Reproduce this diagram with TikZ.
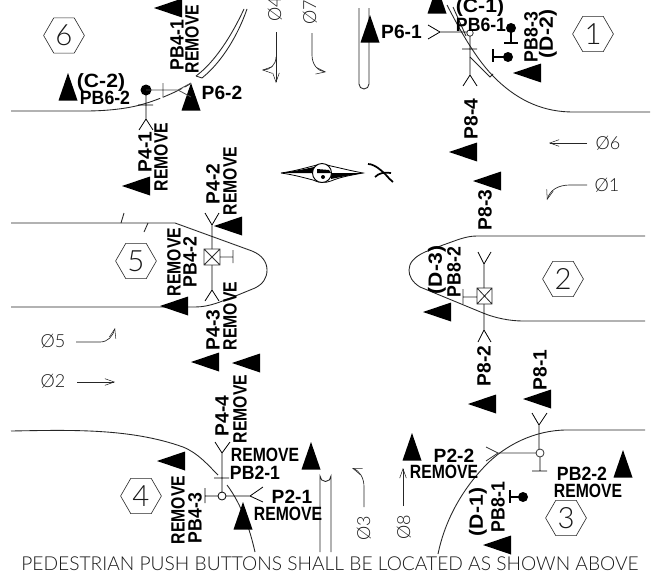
\documentclass[tikz,border=0pt]{standalone}
\usepackage{fontspec}
\setmainfont{Liberation Sans}
\newfontfamily\thinf{Lato Light}
\usetikzlibrary{arrows.meta,shapes.geometric}
\tikzset{
  x=0.75pt,y=-0.75pt,
  lab/.style={font=\fontsize{14.4pt}{14.4pt}\bfseries\selectfont,inner sep=0pt},
  rem/.style={lab,xscale=0.82},
  pb/.style={lab,xscale=0.92},
  paren/.style={lab,xscale=1.1},
  vlab/.style={rotate=90,lab},
  vrem/.style={rotate=90,rem},
  vpb/.style={rotate=90,pb},
  vparen/.style={rotate=90,paren},
  thinlab/.style={font=\thinf\fontsize{13.5pt}{13.5pt}\selectfont,inner sep=0pt,text=black!90},
  vthin/.style={rotate=90,thinlab},
  hexa/.style={font=\thinf\fontsize{22pt}{22pt}\selectfont,text=black!90,draw=black!85,regular polygon,regular polygon sides=6,minimum size=30.6pt,inner sep=0pt,line width=.45pt},
  curb/.style={line width=.65pt,black!85},
  pole/.style={line width=.6pt,black},
  harrow/.style={line width=.5pt,black!85,-{Straight Barb[length=7pt,width=5pt,line width=.4pt]}},
}
\newcommand{\triup}[2]{\fill (#1,#2) -- ++(-9.5,27.5) -- ++(19,0) -- cycle;}
\newcommand{\trileft}[2]{\fill (#1,#2) -- ++(28,-9.5) -- ++(0,19) -- cycle;}
\begin{document}
\begin{tikzpicture}
\useasboundingbox[fill=white] (0,0) rectangle (653,571);
\begin{scope}
\clip (0,0) rectangle (653,571);
% curbs
\draw[curb] (11,111) -- (85,111) .. controls (105,111) and (125,109) .. (140,105);
\draw[curb,dash pattern=on 16pt off 2pt] (140,105) .. controls (155,101) and (175,93) .. (190,84);
\draw[curb] (196,76) .. controls (215,62) and (232,35) .. (244,9);
\draw[curb] (202,78) .. controls (222,62) and (238,35) .. (247,9);
\draw[curb] (196,76) -- (202,78);
\draw[curb] (447,5) .. controls (460,30) and (476,60) .. (497,80) .. controls (520,102) and (545,112) .. (573,112) -- (650,112);
\draw[curb] (453,7) -- (466,36);
\draw[curb] (470,57) -- (490,77) -- (493,74);
\draw[curb] (11,223) -- (175,223) -- (252,251) .. controls (262,255) and (267,262) .. (267,270) .. controls (267,278) and (263,284) .. (255,288) -- (233,297) .. controls (222,301) and (210,307) .. (195,307) -- (11,307);
\draw[curb] (124,213) -- (121,223);
\draw[curb] (148,223) -- (144,232);
\draw[curb] (645,236) -- (523,236) -- (477,236) .. controls (465,236) and (455,241) .. (443,245) -- (425,252) .. controls (414,257) and (409,263) .. (409,270) .. controls (409,276) and (412,282) .. (420,287) -- (483,313) .. controls (495,318) and (510,321) .. (523,321) -- (645,321);
\draw[curb] (11,431) .. controls (70,430) and (130,428) .. (183,447) .. controls (198,453) and (208,465) .. (218,475);
\draw[curb] (227,485) .. controls (242,505) and (250,530) .. (255,552);
\draw[curb] (438,554) .. controls (445,520) and (462,490) .. (485,466) .. controls (505,445) and (535,430) .. (567,430) -- (645,430);
% medians
\draw[curb] (359,8) -- (359,84) arc[start angle=180,end angle=360,x radius=5,y radius=-5] -- (369,8);
\draw[curb] (320,552) -- (320,476) arc[start angle=180,end angle=0,x radius=5.5,y radius=5.5] -- (331,552);
% hexes
\node[hexa] (h6) at (64,35.5) {6};
\node[hexa] (h1) at (593,34) {1};
\node[hexa] (h5) at (136,261) {5};
\node[hexa] (h2) at (563,279) {2};
\node[hexa] (h4) at (141,496) {4};
\node[hexa] (h3) at (566,518) {3};
% triangles
\trileft{154}{8} \triup{68}{73} \triup{191}{83} \trileft{122}{186}
\trileft{214}{226} \trileft{160}{306} \trileft{191}{362} \trileft{232}{363}
\trileft{157}{461} \triup{311}{442} \triup{243}{502} \triup{412}{433}
\triup{623}{450} \trileft{483}{545} \trileft{468}{404} \trileft{523}{399}
\trileft{513}{73} \trileft{449}{152} \trileft{473}{181} \triup{437}{-14}
\triup{370}{15} \trileft{423}{312}
% pole P4-1 / PB6-2
\fill (146,90) circle[radius=5.5];
\draw[pole] (146,90) -- (146,119) (139,130) -- (146,119) -- (153,130) (138,105) -- (153,105);
\draw[pole,black!70] (146,90) -- (178,90) (163,83) -- (163,97) (191,83) -- (178,90) -- (191,97);
% pole P6-1
\draw[pole] (428,25) -- (440,32) -- (428,39) (440,32) -- (467,32);
\draw[pole,black!80] (470,33) circle[radius=3.2];
\draw[pole] (470,36) -- (470,75) (462,49) -- (477,49) (463,86) -- (470,75) -- (477,86);
\fill (508,57) circle[radius=5]; \draw[pole,line width=1.1pt] (508,57) -- (493,57) (493,49) -- (493,62);
\fill (511,28) circle[radius=5]; \draw[pole,line width=1.1pt] (511,28) -- (511,43) (504,43) -- (518,43);
% pole island 5
\draw[pole] (205,213) -- (212,225) -- (219,213) (212,225) -- (212,249) (212,265) -- (212,290) (205,301) -- (212,290) -- (219,301);
\draw[pole,black!80] (204,249) rectangle (220,265) (204,249) -- (220,265) (204,265) -- (220,249) (220,257) -- (233,257) (233,250) -- (233,263);
% pole island 2
\draw[pole] (478,252) -- (484,264) -- (491,252) (484,264) -- (484,288) (484,304) -- (484,330) (478,342) -- (484,330) -- (491,342);
\draw[pole,black!85] (477,288) rectangle (492,304) (477,288) -- (492,304) (477,304) -- (492,288) (477,297) -- (463,297) (463,289) -- (463,304);
% pole bottom-left
\draw[pole] (215,442) -- (222,453) -- (230,442) (222,453) -- (222,492) (214,478) -- (229,478);
\draw[pole] (222,496) circle[radius=4];
\draw[pole] (218,496) -- (205,496) (205,488) -- (205,503) (226,496) -- (250,496) (263,487) -- (250,496) -- (263,502);
% pole bottom-right
\draw[pole] (532,413) -- (539,425) -- (547,413) (539,425) -- (539,449) (540,457) -- (540,471) (532,471) -- (547,471);
\draw[pole,black!80] (540,453) circle[radius=4];
\draw[pole,black!80] (536,453) -- (498,453) (486,447) -- (498,453) -- (486,461);
\fill (523,497) circle[radius=5]; \draw[pole,line width=1.1pt] (523,497) -- (510,497) (510,490) -- (510,503);
% phase arrows
\draw[harrow] (276,32) -- (276,83);
\draw[harrow] (276,57) .. controls (276,65) and (270,70) .. (262,70);
\draw[harrow] (312,33) -- (312,55) .. controls (312,65) and (318,71) .. (326,72);
\draw[harrow] (587,143) -- (549,143);
\draw[harrow] (587,185) -- (570,185) .. controls (558,185) and (550,190) .. (547,200);
\draw[harrow] (76,342) -- (100,342) .. controls (108,342) and (113,336) .. (115,328);
\draw[harrow] (77,382) -- (115,382);
\draw[harrow] (364,507) -- (364,487) .. controls (364,478) and (360,471) .. (352,468);
\draw[harrow] (403,506) -- (403,468);
% north arrow
\draw[line width=.6pt] (281,173) .. controls (295,171) and (305,168) .. (313,166) .. controls (318,164) and (326,164) .. (331,166) .. controls (340,168) and (352,171) .. (363,173) .. controls (352,175) and (340,177) .. (331,181) .. controls (326,183) and (318,183) .. (313,180) .. controls (305,178) and (295,175) .. (281,173);
\fill (281,173) .. controls (295,171) and (305,169) .. (314,167) -- (314,173) -- cycle;
\fill (363,173) -- (331,173) -- (331,179) .. controls (340,177) and (352,175) .. (363,173);
\draw[line width=.7pt,fill=white] (322,173) circle[radius=9.5];
\fill (317,169) -- (329,170) -- (331,173) -- (317,173) -- cycle;
\fill (323,177) circle[radius=2];
\draw[line width=1.3pt] (368,164) .. controls (375,164) and (383,172) .. (386,175) .. controls (388,178) and (391,180) .. (393,182);
\draw[line width=1.3pt] (375,177) .. controls (379,173) and (384,172) .. (391,173);
% labels
\node[lab] (t1) at (401.5,32) {P6-1};
\node[paren] (t2) at (480,8) {(C-1)};
\node[pb] (t3) at (481,25) {PB6-1};
\node[lab] (t4) at (222,93) {P6-2};
\node[paren] (t5) at (101,83) {(C-2)};
\node[pb] (t6) at (105,98) {PB6-2};
\node[rem] (t7) at (265,455) {REMOVE};
\node[pb] (t8) at (255,473) {PB2-1};
\node[lab] (t9) at (292,497) {P2-1};
\node[rem] (t10) at (288,514) {REMOVE};
\node[lab] (t11) at (454,456) {P2-2};
\node[rem] (t12) at (444,472) {REMOVE};
\node[pb] (t13) at (582,474) {PB2-2};
\node[rem] (t14) at (588,491) {REMOVE};
\node[vpb] (v1) at (177,45) {PB4-1};
\node[vrem] (v2) at (192,39) {REMOVE};
\node[vlab] (v3) at (145,152) {P4-1};
\node[vrem] (v4) at (161,157) {REMOVE};
\node[vlab] (v5) at (213,184) {P4-2};
\node[vrem] (v6) at (230,181) {REMOVE};
\node[vrem] (v7) at (174,262) {REMOVE};
\node[vpb] (v8) at (190,262) {PB4-2};
\node[vlab] (v9) at (213,330) {P4-3};
\node[vrem] (v10) at (230,316) {REMOVE};
\node[vlab] (v11) at (222,416) {P4-4};
\node[vrem] (v12) at (240,409) {REMOVE};
\node[vrem] (v13) at (178,510) {REMOVE};
\node[vpb] (v14) at (195,518) {PB4-3};
\node[vpb] (v15) at (531,37) {PB8-3};
\node[vparen] (v16) at (548,34) {(D-2)};
\node[vlab] (v17) at (471,119) {P8-4};
\node[vlab] (v18) at (485,210) {P8-3};
\node[vparen] (v19) at (437,270) {(D-3)};
\node[vpb] (v20) at (454,272) {PB8-2};
\node[vlab] (v21) at (484,366) {P8-2};
\node[vlab] (v22) at (540,370) {P8-1};
\node[vparen] (v23) at (478,512) {(D-1)};
\node[vpb] (v24) at (498,507) {PB8-1};
\node[thinlab] (p6) at (608,143) {Ø6};
\node[thinlab] (p1) at (607,185) {Ø1};
\node[thinlab] (p5) at (53,341) {Ø5};
\node[thinlab] (p2) at (53,381) {Ø2};
\node[vthin] (p4) at (275,9) {Ø4};
\node[vthin] (p7) at (310,12) {Ø7};
\node[vthin] (p3) at (364,528) {Ø3};
\node[vthin] (p8) at (404,527) {Ø8};
\node[thinlab,anchor=base,font=\thinf\fontsize{14.4pt}{14.4pt}\selectfont] (note) at (330,570.5) {PEDESTRIAN PUSH BUTTONS SHALL BE LOCATED AS SHOWN ABOVE};
\end{scope}
\end{tikzpicture}
\end{document}
